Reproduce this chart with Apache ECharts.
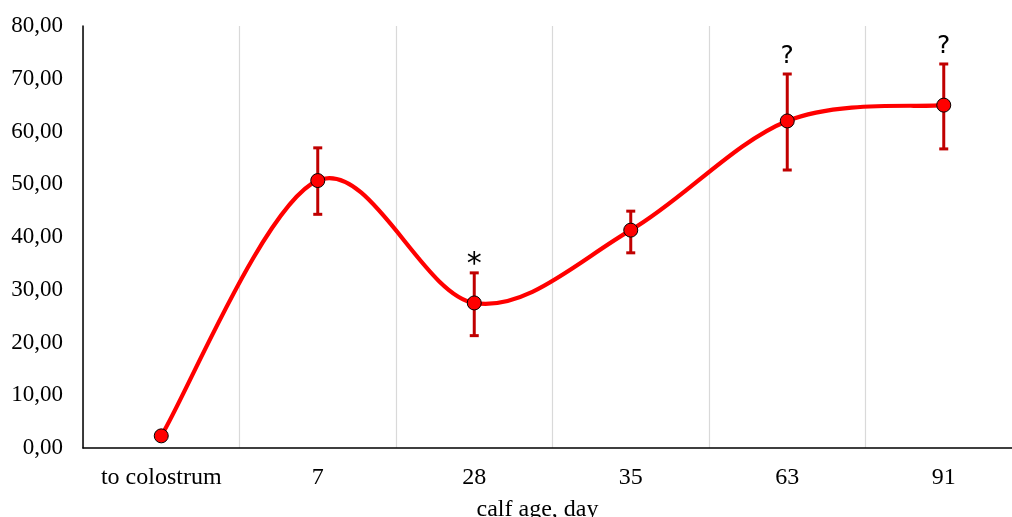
<!DOCTYPE html>
<html>
<head>
<meta charset="utf-8">
<script src="https://cdn.jsdelivr.net/npm/echarts@6/dist/echarts.min.js"></script>
<style>html,body{margin:0;padding:0;background:#fff}#c{width:1012px;height:517px}</style>
</head>
<body>
<div id="c"></div>
<script>
const categories = ['to colostrum', '7', '28', '35', '63', '91'];
const means = [2.3, 50.7, 27.5, 41.3, 62.0, 65.0];
const lower = [null, 44.3, 21.3, 37.0, 52.7, 56.7];
const upper = [null, 56.9, 33.2, 44.9, 70.9, 72.8];
const marks = ['', '', '*', '', '?', '?'];
const yTicks = [0, 10, 20, 30, 40, 50, 60, 70, 80];

const chart = echarts.init(document.getElementById('c'));
const errData = categories.map((c, i) => [i, lower[i], upper[i]]);
const curveData = means.map((v, i) => [i, v]);

chart.setOption({
  animation: false,
  backgroundColor: '#fff',
  grid: { left: 83, right: -10, top: 26, bottom: 69, outerBoundsMode: 'none', containLabel: false },
  xAxis: {
    type: 'category',
    data: categories,
    boundaryGap: true,
    axisLine: { lineStyle: { color: '#000', width: 1.5 } },
    axisTick: { show: false, interval: 0 },
    splitLine: { show: true, interval: 0, lineStyle: { color: '#d9d9d9', width: 1.2 } },
    axisLabel: { color: '#000', fontFamily: 'Liberation Serif', fontSize: 24, margin: 18, interval: 0 },
    name: 'calf age, day',
    nameLocation: 'middle',
    nameGap: 50,
    nameTextStyle: { color: '#000', fontFamily: 'Liberation Serif', fontSize: 24, padding: [0, 30, 0, 0] }
  },
  yAxis: {
    type: 'value',
    min: yTicks[0],
    max: yTicks[yTicks.length - 1],
    interval: 10,
    axisLine: { show: true, lineStyle: { color: '#000', width: 1.5 } },
    axisTick: { show: false },
    splitLine: { show: false },
    axisLabel: {
      color: '#000', fontFamily: 'Liberation Serif', fontSize: 23, margin: 20,
      formatter: v => v.toFixed(2).replace('.', ',')
    }
  },
  series: [
    {
      // smoothed curve (Catmull-Rom, as in spreadsheet smoothed lines) through data coords
      type: 'custom',
      data: curveData,
      z: 2,
      silent: true,
      renderItem: function (params, api) {
        if (params.dataIndex !== 0) return null;
        const pts = curveData.map(d => api.coord(d));
        const n = pts.length;
        let path = 'M' + pts[0][0] + ' ' + pts[0][1];
        for (let i = 0; i < n - 1; i++) {
          const p0 = pts[Math.max(i - 1, 0)], p1 = pts[i], p2 = pts[i + 1], p3 = pts[Math.min(i + 2, n - 1)];
          const c1x = p1[0] + (p2[0] - p0[0]) / 6, c1y = p1[1] + (p2[1] - p0[1]) / 6;
          const c2x = p2[0] - (p3[0] - p1[0]) / 6, c2y = p2[1] - (p3[1] - p1[1]) / 6;
          path += ' C' + c1x + ' ' + c1y + ' ' + c2x + ' ' + c2y + ' ' + p2[0] + ' ' + p2[1];
        }
        return {
          type: 'path',
          shape: { pathData: path },
          style: { fill: 'none', stroke: '#ff0000', lineWidth: 4.2, lineJoin: 'round' }
        };
      }
    },
    {
      type: 'custom',
      data: errData,
      z: 3,
      renderItem: function (params, api) {
        const idx = api.value(0);
        const lo = api.value(1), hi = api.value(2);
        if (lo == null || isNaN(lo) || hi == null || isNaN(hi)) return null;
        const top = api.coord([idx, hi]);
        const bot = api.coord([idx, lo]);
        const hw = 4.5;
        const style = { stroke: '#c00000', lineWidth: 3 };
        const children = [
          { type: 'line', shape: { x1: top[0], y1: top[1], x2: bot[0], y2: bot[1] }, style: style },
          { type: 'line', shape: { x1: top[0] - hw, y1: top[1], x2: top[0] + hw, y2: top[1] }, style: style },
          { type: 'line', shape: { x1: bot[0] - hw, y1: bot[1], x2: bot[0] + hw, y2: bot[1] }, style: style }
        ];
        const mark = marks[idx];
        if (mark) {
          const isStar = mark === '*';
          children.push({
            type: 'text',
            style: {
              text: mark, x: top[0], y: top[1] - (isStar ? -7 : 5),
              align: 'center', verticalAlign: 'bottom',
              fill: '#000', fontFamily: 'DejaVu Sans', fontSize: isStar ? 30 : 25
            }
          });
        }
        return { type: 'group', children: children };
      }
    },
    {
      type: 'line',
      data: means,
      symbol: 'circle',
      symbolSize: 14,
      lineStyle: { width: 0, opacity: 0 },
      itemStyle: { color: '#ff0000', borderColor: '#000', borderWidth: 1 },
      z: 4
    }
  ]
});
</script>
</body>
</html>
